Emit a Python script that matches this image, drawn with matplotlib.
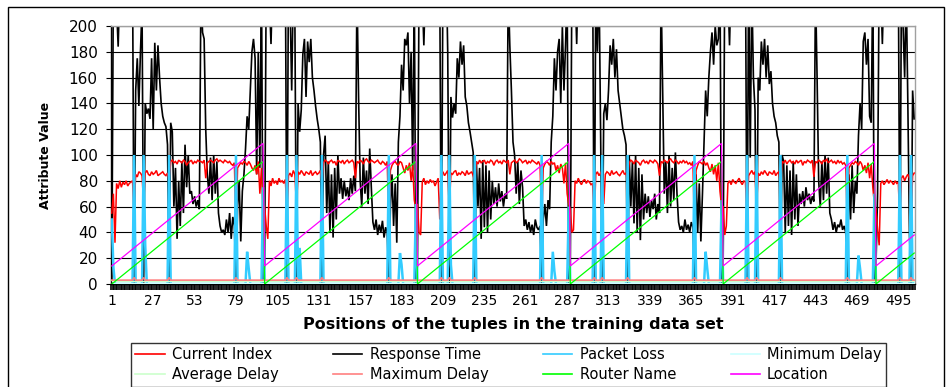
import numpy as np
import matplotlib.pyplot as plt
from matplotlib.patches import Rectangle

# ---- data (tuple positions 1..505, cycles of 96 tuples) ----
tick_labels = [1, 27, 53, 79, 105, 131, 157, 183, 209, 235, 261, 287, 313, 339,
               365, 391, 417, 443, 469, 495]

# Response Time (values above 200 are clipped by the chart)
rt_c1 = [0, 240, 230, 215, 184, 230, 250, 240, 260, 230, 250, 245, 235, 250,
         0, 150, 175, 138, 180, 215, 0, 140, 132, 136, 128, 175, 120, 187, 150, 185,
         160, 140, 130, 125, 122, 108, 0, 125, 118, 60, 90, 35, 80, 45, 95, 55,
         108, 75, 100, 70, 72, 62, 68, 60, 65, 58, 230, 195, 190, 120, 85, 70,
         98, 65, 100, 70, 95, 55, 45, 40, 42, 38, 50, 40, 55, 35, 52, 45,
         0, 60, 80, 33, 72, 85, 105, 130, 120, 150, 180, 190, 175, 85, 180, 90, 240, 0]
rt_c2 = [15, 240, 230, 220, 186, 235, 250, 245, 255, 240, 250, 240, 245, 250,
         0, 250, 215, 150, 230, 205, 0, 140, 118, 135, 178, 190, 145, 188, 172, 190,
         160, 150, 138, 128, 120, 110, 0, 100, 115, 55, 95, 40, 85, 36, 90, 50,
         100, 70, 82, 66, 80, 68, 75, 65, 82, 70, 84, 72, 230, 145, 80, 60,
         98, 70, 88, 62, 105, 75, 48, 42, 50, 38, 46, 40, 49, 36, 44, 40,
         0, 60, 85, 45, 78, 32, 110, 130, 170, 150, 190, 185, 195, 140, 180, 88, 230, 0]
rt_c3 = [15, 235, 240, 225, 185, 230, 245, 250, 240, 255, 235, 250, 245, 250,
         230, 0, 240, 215, 250, 180, 0, 145, 129, 140, 132, 175, 160, 188, 170, 185,
         145, 138, 125, 118, 110, 102, 0, 95, 60, 90, 35, 96, 44, 92, 40, 88,
         50, 80, 62, 75, 60, 78, 64, 72, 60, 70, 66, 230, 185, 150, 110, 100,
         70, 95, 62, 88, 75, 45, 50, 42, 48, 40, 46, 38, 50, 44, 42, 45,
         0, 50, 62, 45, 65, 58, 110, 130, 175, 150, 180, 190, 140, 200, 150, 185, 230, 0]
rt_c4 = [15, 240, 235, 230, 186, 240, 250, 245, 255, 240, 250, 235, 245, 250,
         250, 0, 230, 180, 240, 120, 0, 132, 140, 127, 150, 185, 170, 190, 160, 182,
         150, 140, 130, 120, 115, 108, 0, 100, 60, 95, 47, 100, 40, 90, 34, 85,
         50, 70, 55, 68, 52, 65, 58, 70, 50, 62, 55, 230, 150, 70, 95, 55,
         100, 60, 90, 65, 102, 70, 48, 42, 45, 40, 50, 42, 46, 40, 48, 44,
         0, 85, 40, 78, 33, 70, 110, 150, 130, 160, 180, 195, 170, 200, 185, 190, 240, 0]
rt_c5 = [15, 240, 230, 225, 185, 235, 250, 240, 250, 245, 255, 240, 250, 245,
         250, 0, 240, 98, 230, 160, 135, 0, 160, 150, 188, 170, 190, 160, 185, 155,
         165, 140, 130, 125, 115, 110, 0, 100, 95, 40, 92, 45, 88, 38, 95, 50,
         85, 45, 70, 62, 72, 60, 75, 65, 70, 62, 68, 64, 230, 160, 80, 60,
         95, 65, 100, 70, 98, 55, 50, 42, 48, 40, 46, 44, 50, 42, 45, 40,
         0, 85, 50, 92, 55, 80, 70, 115, 140, 120, 188, 195, 170, 190, 130, 125, 240, 0]
rt_c6 = [15, 70, 240, 230, 186, 235, 250, 245, 250, 240, 255, 245, 250, 240, 250,
         0, 240, 200, 160, 230, 140, 40, 0, 150, 128]

# Current Index
ci_c1 = [55, 70, 32, 78, 74, 80, 75, 79, 77, 80, 76, 78, 79, 80,
         56, 85, 83, 87, 86, 84, 62, 86, 88, 85, 84, 87, 85, 86, 88, 84, 85, 86, 87, 85, 84, 86,
         80,
         95, 96, 94, 95, 93, 96, 95, 94, 96, 95, 92, 94, 95, 96, 93, 95, 94, 96, 95, 95, 94,
         96, 82, 94, 95, 96, 95, 94, 96, 97, 95, 96, 95, 94, 96, 95, 94, 95, 93, 92, 94,
         40,
         90, 92, 94, 93, 95, 94, 92, 95, 93, 90, 88, 92, 85, 95, 70, 90, 60]
ci_c2 = [60, 45, 35, 80, 76, 82, 78, 80, 77, 82, 79, 80, 78, 81,
         55, 84, 86, 83, 88, 85, 60, 87, 85, 88, 86, 84, 87, 86, 85, 88, 84, 86, 87, 85, 86, 88,
         78,
         94, 96, 95, 93, 95, 96, 94, 95, 92, 96, 95, 94, 96, 93, 95, 96, 94, 95, 96, 94, 82,
         95, 94, 96, 95, 93, 96, 97, 95, 94, 96, 95, 94, 95, 96, 94, 93, 95, 94, 92, 95,
         42,
         88, 92, 94, 95, 93, 92, 95, 94, 90, 86, 92, 88, 94, 80, 92, 65, 58]
ci_c3 = [62, 40, 38, 79, 82, 77, 80, 78, 81, 79, 80, 76, 79, 82,
         50, 85, 87, 84, 86, 88, 58, 86, 85, 87, 88, 84, 86, 85, 87, 86, 84, 88, 85, 86, 87, 84,
         80,
         95, 93, 96, 94, 95, 96, 93, 95, 94, 96, 95, 92, 95, 96, 94, 95, 93, 96, 95, 94, 96,
         85, 94, 95, 96, 94, 95, 97, 96, 94, 95, 96, 93, 95, 94, 96, 95, 94, 93, 95, 92,
         45,
         90, 93, 95, 94, 92, 95, 93, 94, 88, 92, 86, 93, 90, 78, 94, 70, 62]
ci_c4 = [58, 40, 42, 80, 78, 82, 79, 77, 80, 81, 78, 80, 79, 77,
         78, 48, 85, 87, 84, 86, 88, 62, 85, 87, 86, 84, 88, 85, 86, 87, 85, 84, 86, 88, 85, 86,
         80,
         94, 96, 95, 93, 96, 95, 94, 92, 95, 96, 94, 95, 93, 96, 95, 94, 96, 95, 93, 84, 95,
         94, 96, 95, 94, 96, 97, 95, 94, 96, 95, 93, 95, 94, 96, 94, 95, 93, 94, 92, 95,
         40,
         88, 92, 95, 94, 93, 95, 92, 94, 90, 87, 93, 85, 92, 80, 94, 72, 60]
ci_c5 = [60, 38, 45, 78, 80, 77, 81, 79, 78, 80, 82, 79, 77, 80,
         79, 52, 84, 86, 88, 85, 87, 60, 86, 84, 87, 85, 88, 86, 84, 87, 86, 85, 88, 84, 86, 87,
         78,
         95, 94, 96, 93, 95, 96, 94, 95, 93, 96, 94, 95, 96, 92, 95, 94, 96, 95, 94, 96, 83,
         95, 94, 96, 95, 93, 96, 95, 97, 94, 95, 96, 94, 95, 93, 96, 94, 95, 93, 94, 92,
         44,
         90, 92, 94, 93, 95, 94, 92, 95, 93, 88, 92, 86, 94, 82, 93, 75, 62]
ci_c6 = [58, 42, 30, 78, 80, 77, 79, 81, 78, 80, 79, 77, 80, 78, 79, 47, 82, 84, 80, 83,
         85, 82, 50, 84, 86]

# Packet Loss: zero except at these tuple positions
pl_pos = [1, 2, 15, 21, 22, 37, 79, 86, 87, 96,
          111, 117, 119, 133, 175, 182, 183, 192,
          208, 213, 214, 229, 271, 278, 279, 288,
          304, 309, 325, 367, 374, 375, 384,
          400, 406, 421, 463, 470, 471, 480,
          496, 503]
pl_val = [50, 13, 100, 100, 30, 100, 100, 25, 12, 75,
          100, 100, 28, 100, 100, 24, 15, 62,
          100, 100, 15, 100, 100, 25, 10, 60,
          100, 100, 100, 100, 25, 12, 65,
          100, 100, 100, 100, 22, 12, 70,
          100, 100]

# Maximum Delay: flat at 3, bumps to 5 at the loss spikes
max_delay_level = 3
max_delay_bump_pos = [15, 21, 37, 79, 111, 117, 133, 175, 208, 213, 229, 271,
                      304, 309, 325, 367, 400, 406, 421, 463, 496, 503]
max_delay_bump = 5
min_delay_level = 1
avg_delay_level = 2

# Router Name / Location restart every 96 tuples
router_cycle = [0, 1, 2, 3, 4, 5, 6, 7, 8, 9, 10, 11, 12, 13, 14, 15, 16, 17, 18, 19,
                20, 21, 22, 23, 24, 25, 26, 27, 28, 29, 30, 31, 32, 33, 34, 35, 36, 37,
                38, 39, 40, 41, 42, 43, 44, 45, 46, 47, 48, 49, 50, 51, 52, 53, 54, 55,
                56, 57, 58, 59, 60, 61, 62, 63, 64, 65, 66, 67, 68, 69, 70, 71, 72, 73,
                74, 75, 76, 77, 78, 79, 80, 81, 82, 83, 84, 85, 86, 87, 88, 89, 90, 91,
                92, 93, 94, 95]
location_cycle = [14, 15, 16, 17, 18, 19, 20, 21, 22, 23, 24, 25, 26, 27, 28, 29, 30,
                  31, 32, 33, 34, 35, 36, 37, 38, 39, 40, 41, 42, 43, 44, 45, 46, 47,
                  48, 49, 50, 51, 52, 53, 54, 55, 56, 57, 58, 59, 60, 61, 62, 63, 64,
                  65, 66, 67, 68, 69, 70, 71, 72, 73, 74, 75, 76, 77, 78, 79, 80, 81,
                  82, 83, 84, 85, 86, 87, 88, 89, 90, 91, 92, 93, 94, 95, 96, 97, 98,
                  99, 100, 101, 102, 103, 104, 105, 106, 107, 108, 109]

# ---- assemble series ----
response_time = np.array(rt_c1 + rt_c2 + rt_c3 + rt_c4 + rt_c5 + rt_c6, dtype=float)
current_index = np.array(ci_c1 + ci_c2 + ci_c3 + ci_c4 + ci_c5 + ci_c6, dtype=float)
n = len(response_time)
x = np.arange(1, n + 1)

packet_loss = np.zeros(n)
packet_loss[np.array(pl_pos) - 1] = pl_val
max_delay = np.full(n, float(max_delay_level))
max_delay[np.array(max_delay_bump_pos) - 1] = max_delay_bump
min_delay = np.full(n, float(min_delay_level))
avg_delay = np.full(n, float(avg_delay_level))
router_name = np.array((router_cycle * 6)[:n], dtype=float)
location = np.array((location_cycle * 6)[:n], dtype=float)

plt.rcParams['font.family'] = ['DejaVu Sans']

W, H = 949, 387
fig = plt.figure(figsize=(W / 100, H / 100), dpi=100)
ax = fig.add_axes([111 / W, 1 - 284 / H, (915 - 111) / W, (284 - 26) / H])

series = [
    ('Current Index', current_index, '#FF0000', 1.1, 3),
    ('Response Time', response_time, '#000000', 1.2, 2),
    ('Packet Loss', packet_loss, '#33CCFF', 1.8, 4),
    ('Minimum Delay', min_delay, '#CCFFFF', 1.0, 5),
    ('Average Delay', avg_delay, '#CCFFCC', 1.0, 5),
    ('Maximum Delay', max_delay, '#FF8080', 1.2, 5),
    ('Router Name', router_name, '#00FF00', 0.9, 6),
    ('Location', location, '#FF00FF', 0.9, 7),
]
for name, y, c, lw, z in series:
    ax.plot(x, y, color=c, lw=lw, zorder=z, label=name, solid_joinstyle='miter')

ax.set_xlim(0.5, n + 0.5)
ax.set_ylim(0, 200)
ax.set_yticks(range(0, 201, 20))
ax.set_xticks(tick_labels)
ax.set_xticklabels([str(t) for t in tick_labels])
ax.set_xticks(np.arange(0.5, n + 1, 1), minor=True)
ax.tick_params(axis='x', which='major', length=0, labelsize=10, pad=7)
ax.tick_params(axis='x', which='minor', length=4.5, width=1.2, color='black', direction='out')
ax.tick_params(axis='y', which='major', length=3.5, width=0.8, color='black',
               labelsize=11, pad=6)
ax.grid(axis='y', color='black', lw=0.8)
ax.set_axisbelow(True)
for s in ['left', 'bottom']:
    ax.spines[s].set_color('black')
    ax.spines[s].set_linewidth(1.0)
for s in ['top', 'right']:
    ax.spines[s].set_color('#A0A0A0')
    ax.spines[s].set_linewidth(1.0)

ax.set_xlabel('Positions of the tuples in the training data set', fontsize=11.5,
              fontweight='bold', labelpad=7)
ax.set_ylabel('Attribute Value', fontsize=9, fontweight='bold', labelpad=12)

# legend filled row by row, as in the original
handles, labels = ax.get_legend_handles_labels()
order = [0, 4, 1, 5, 2, 6, 3, 7]
leg = fig.legend([handles[i] for i in order], [labels[i] for i in order],
                 loc='upper left', ncol=4, mode='expand',
                 bbox_to_anchor=(131 / W, 0, (886 - 131) / W, 1 - 343 / H),
                 fontsize=10.5, frameon=True, fancybox=False, edgecolor='black',
                 handlelength=2.0, handletextpad=0.5, labelspacing=0.35,
                 borderpad=0.3, borderaxespad=0)
leg.get_frame().set_linewidth(1.0)
for ln in leg.get_lines():
    ln.set_linewidth(1.2)

# outer chart frame
fig.patches.append(Rectangle((8 / W, -0.05), (944 - 8) / W, 1 - 7 / H + 0.05,
                             transform=fig.transFigure, fill=False,
                             edgecolor='black', lw=1.0))

fig.savefig('out.png', dpi=100)
